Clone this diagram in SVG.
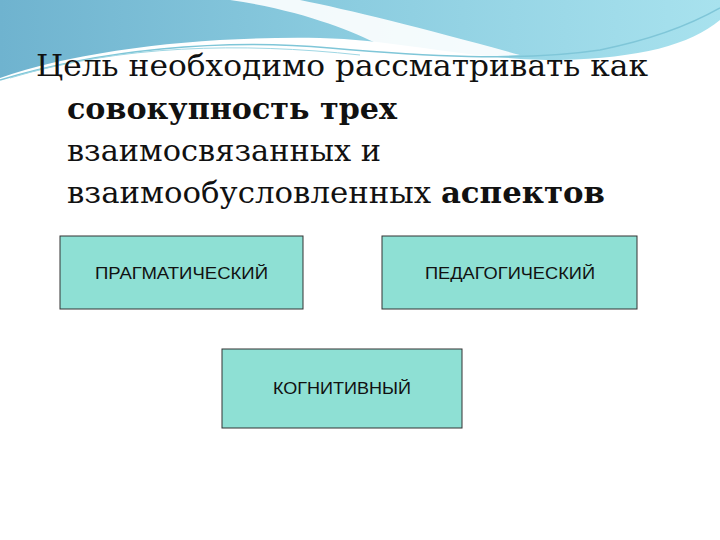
<svg xmlns="http://www.w3.org/2000/svg" width="720" height="540" viewBox="0 0 720 540">
<defs>
<linearGradient id="sky" x1="0" y1="0" x2="1" y2="0">
<stop offset="0" stop-color="#6fb3cf"/><stop offset="0.5" stop-color="#8ccde0"/><stop offset="1" stop-color="#a8e2ee"/>
</linearGradient>
<style>
.box{fill:#8ee0d4;stroke:#333;stroke-width:1}
.lbl{font-family:"Liberation Sans",Arial,sans-serif;font-size:17px;fill:#111}
.t{font-family:"DejaVu Serif","Liberation Serif",serif;font-size:30px;fill:#111}
</style>
</defs>
<rect width="720" height="540" fill="#fff"/>
<path d="M0 0H720V20C690 45 640 58 560 60C470 60 400 40 320 38C200 36 80 50 0 78Z" fill="url(#sky)"/>
<path d="M230 0C300 10 350 30 380 45C420 55 470 58 520 55C430 30 350 10 300 0Z" fill="#fff" opacity="0.9"/>
<path d="M0 80C100 50 220 38 330 48C420 56 520 62 600 50C650 40 690 25 720 8" fill="none" stroke="#7fc6d8" stroke-width="1.5"/>
<path d="M10 78C120 45 240 42 360 55" fill="none" stroke="#9fd7e4" stroke-width="1"/>
<g id="title">
<text class="t" x="36" y="76" textLength="612" lengthAdjust="spacingAndGlyphs">Цель необходимо рассматривать как</text>
<text class="t" x="67" y="119" font-weight="bold" textLength="330" lengthAdjust="spacingAndGlyphs">совокупность трех</text>
<text class="t" x="67" y="161" textLength="314" lengthAdjust="spacingAndGlyphs">взаимосвязанных и</text>
<text class="t" x="67" y="203" textLength="538" lengthAdjust="spacingAndGlyphs">взаимообусловленных <tspan font-weight="bold">аспектов</tspan></text>
</g>
<g id="n1"><rect class="box" x="60" y="236" width="243" height="73"/><text class="lbl" x="95" y="279" textLength="173" lengthAdjust="spacingAndGlyphs">ПРАГМАТИЧЕСКИЙ</text></g>
<g id="n2"><rect class="box" x="382" y="236" width="255" height="73"/><text class="lbl" x="425" y="279" textLength="170" lengthAdjust="spacingAndGlyphs">ПЕДАГОГИЧЕСКИЙ</text></g>
<g id="n3"><rect class="box" x="222" y="349" width="240" height="79"/><text class="lbl" x="273" y="394" textLength="138" lengthAdjust="spacingAndGlyphs">КОГНИТИВНЫЙ</text></g>
<g id="connectors"/>
</svg>
